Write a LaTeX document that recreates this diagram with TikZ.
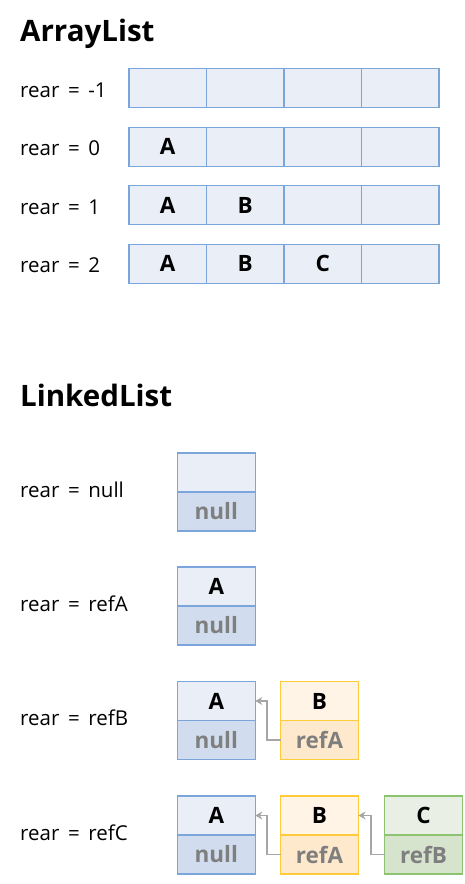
\documentclass[tikz,border=0pt]{standalone}
\usepackage{fontspec}
\setmainfont{Open Sans}
\usetikzlibrary{arrows.meta}
\definecolor{bborder}{HTML}{7AA6DC}
\definecolor{bfill}{HTML}{E9EEF7}
\definecolor{bfilld}{HTML}{D1DDEF}
\definecolor{yborder}{HTML}{FFCB3A}
\definecolor{yfill}{HTML}{FFF4E6}
\definecolor{yfilld}{HTML}{FFE9CC}
\definecolor{gborder}{HTML}{8DC26F}
\definecolor{gfill}{HTML}{E9EFE4}
\definecolor{gfilld}{HTML}{D6E4CD}
\definecolor{txtgray}{HTML}{7F7F7F}
\definecolor{arrgray}{HTML}{A6A6A6}
\newcommand\eqsp{\hspace{0.42em}=\hspace{0.42em}}
\begin{document}
\begin{tikzpicture}[x=1pt,y=-1pt,
  title/.style={anchor=base west, inner sep=0, font=\fontsize{29.5}{34}\selectfont\bfseries},
  lbl/.style={anchor=base west, inner sep=0, font=\fontsize{20.5}{24}\selectfont},
  cfont/.style={font=\fontsize{22.5}{26}\selectfont\bfseries},
  acell/.style={draw=bborder, fill=bfill, line width=1.1pt, minimum width=77.5pt, minimum height=39pt, inner sep=0, outer sep=0},
  ltop/.style={cfont, line width=1.1pt, minimum width=78pt, minimum height=39pt, inner sep=0, outer sep=0},
  lbot/.style={cfont, line width=1.1pt, minimum width=78pt, minimum height=39pt, inner sep=0, outer sep=0, text=txtgray},
  bt/.style={ltop, draw=bborder, fill=bfill},
  bb/.style={lbot, draw=bborder, fill=bfilld},
  yt/.style={ltop, draw=yborder, fill=yfill},
  yb/.style={lbot, draw=yborder, fill=yfilld},
  gt/.style={ltop, draw=gborder, fill=gfill},
  gb/.style={lbot, draw=gborder, fill=gfilld},
  conn/.style={draw=arrgray, line width=1.8pt, -{Stealth[length=7pt,width=8pt]}}
]
\useasboundingbox (0,0) rectangle (464,884);

\node[title] (t1) at (20,41) {ArrayList};

% ArrayList rows
\foreach \r/\yc/\lab in {1/88/-1, 2/146.7/0, 3/205.3/1, 4/263.8/2} {
  \node[lbl] (al\r) at (20,\yc+9) {rear\eqsp\lab};
  \foreach \c in {1,2,3,4} {
    \node[acell] (a\r c\c) at ({129+77.5*(\c-0.5)},\yc) {};
  }
}
\node at (a2c1) [cfont] (a2A) {A};
\node at (a3c1) [cfont] (a3A) {A};
\node at (a3c2) [cfont] (a3B) {B};
\node at (a4c1) [cfont] (a4A) {A};
\node at (a4c2) [cfont] (a4B) {B};
\node at (a4c3) [cfont] (a4C) {C};

\node[title] (t2) at (20,406) {LinkedList};

% LinkedList rows
\node[lbl] (ll1) at (20,497) {rear\eqsp null};
\node[bt] (n1t) at (216.3,472.5) {};
\node[bb] (n1b) at (216.3,511.5) {null};

\node[lbl] (ll2) at (20,611) {rear\eqsp refA};
\node[bt] (n2t) at (216.3,586.5) {A};
\node[bb] (n2b) at (216.3,625.5) {null};

\node[lbl] (ll3) at (20,725) {rear\eqsp refB};
\node[bt] (n3at) at (216.3,701) {A};
\node[bb] (n3ab) at (216.3,740) {null};
\node[yt] (n3bt) at (319.5,701) {B};
\node[yb] (n3bb) at (319.5,740) {refA};
\draw[conn] (n3bb.west) -- ++(-13.5,0) |- (n3at.east);

\node[lbl] (ll4) at (20,840) {rear\eqsp refC};
\node[bt] (n4at) at (216.3,815.5) {A};
\node[bb] (n4ab) at (216.3,854.5) {null};
\node[yt] (n4bt) at (319.5,815.5) {B};
\node[yb] (n4bb) at (319.5,854.5) {refA};
\node[gt] (n4ct) at (423.5,815.5) {C};
\node[gb] (n4cb) at (423.5,854.5) {refB};
\draw[conn] (n4bb.west) -- ++(-13.5,0) |- (n4at.east);
\draw[conn] (n4cb.west) -- ++(-13.5,0) |- (n4bt.east);
\end{tikzpicture}
\end{document}
